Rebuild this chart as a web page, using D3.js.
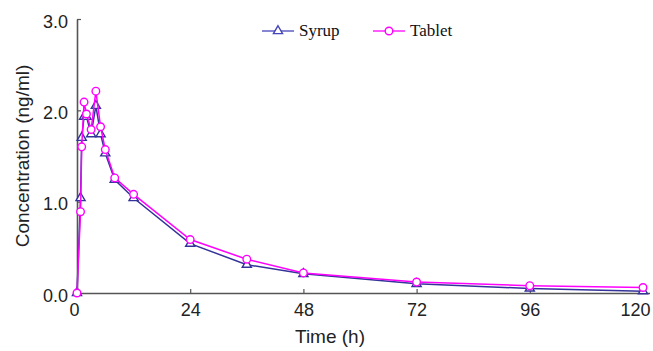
<!DOCTYPE html>
<html>
<head>
<meta charset="utf-8">
<script src="https://cdn.jsdelivr.net/npm/d3@7"></script>
<style>
body{margin:0;background:#fff;}
svg{display:block;}
.tick text{font-family:"Liberation Sans",Arial,sans-serif;font-size:18px;fill:#222;}
</style>
</head>
<body>
<div id="chart"></div>
<script>
// data
const times = [0, 0.75, 1, 1.5, 2, 3, 4, 5, 6, 8, 12, 24, 36, 48, 72, 96, 120];
const syrup = [0, 1.04, 1.70, 1.93, 1.93, 1.74, 2.05, 1.74, 1.53, 1.24, 1.04, 0.54, 0.31, 0.21, 0.10, 0.05, 0.02];
const tablet = [0, 0.89, 1.60, 2.09, 1.96, 1.79, 2.21, 1.82, 1.57, 1.26, 1.08, 0.585, 0.37, 0.22, 0.12, 0.08, 0.06];
const xTicks = [0, 24, 48, 72, 96, 120];
const yTicks = [0, 1, 2, 3];

const width = 653, height = 351;
const margin = {t:19, r:10, b:58, l:77};
const w = 643 - margin.l;
const h = height - margin.t - margin.b;

const svg = d3.select('#chart').append('svg')
	.attr('width', width)
	.attr('height', height);
const plot = svg.append('g')
	.attr('transform', `translate(${margin.l},${margin.t})`);

const scaleX = d3.scaleLinear().domain([0,120]).range([0,w]);
const scaleY = d3.scaleLinear().domain([0,3]).range([h,0]);

const axisColor = '#555';

// x axis, ticks pointing inward
const axisX = d3.axisBottom(scaleX).tickValues(xTicks).tickSize(-4).tickSizeOuter(0).tickPadding(10);
const gx = plot.append('g').attr('transform', `translate(0,${h})`).call(axisX);
gx.select('.domain').attr('d', `M0,0.5H${w+7}`).attr('stroke', axisColor).attr('stroke-width', 1.6);
gx.selectAll('line').attr('stroke', axisColor).attr('stroke-width', 1.2);
gx.selectAll('.tick text').filter(d => d === 120).attr('text-anchor', 'end').attr('x', 7);
gx.selectAll('.tick text').filter(d => d === 0).attr('x', -3);

// y axis
const axisY = d3.axisLeft(scaleY).tickValues(yTicks).tickFormat(d3.format('.1f')).tickSize(-4).tickSizeOuter(0).tickPadding(9);
const gy = plot.append('g').call(axisY);
gy.select('.domain').attr('stroke', axisColor).attr('stroke-width', 1.6);
gy.selectAll('line').attr('stroke', axisColor).attr('stroke-width', 1.2);
gy.selectAll('.tick text').attr('dy', '0.45em');

// axis titles
svg.append('text')
	.attr('x', 330).attr('y', 343)
	.attr('text-anchor', 'middle')
	.style('font-family', '"Liberation Sans",Arial,sans-serif')
	.style('font-size', '19px').style('fill', '#222')
	.text('Time (h)');
svg.append('text')
	.attr('transform', 'translate(29,156) rotate(-90)')
	.attr('text-anchor', 'middle')
	.style('font-family', '"Liberation Sans",Arial,sans-serif')
	.style('font-size', '19px').style('fill', '#222')
	.text('Concentration (ng/ml)');

const series = [
	{name:'Syrup', values:syrup, color:'#333399', marker:'triangle'},
	{name:'Tablet', values:tablet, color:'#ff00ff', marker:'circle'}
];

const line = d3.line()
	.x((d,i) => scaleX(times[i]))
	.y(d => scaleY(d));

function drawMarker(sel, type, color){
	if(type === 'triangle'){
		sel.append('path')
			.attr('d', d3.symbol(d3.symbolTriangle, 36)())
			.attr('fill', '#fff').attr('stroke', color).attr('stroke-width', 1.4);
	} else {
		sel.append('circle').attr('r', 3.8)
			.attr('fill', '#fff').attr('stroke', color).attr('stroke-width', 1.4);
	}
}

series.forEach(s => {
	plot.append('path')
		.datum(s.values)
		.attr('fill', 'none')
		.attr('stroke', s.color)
		.attr('stroke-width', 1.5)
		.attr('d', line);
	plot.selectAll(null)
		.data(s.values)
		.enter().append('g')
		.attr('transform', (d,i) => `translate(${scaleX(times[i])},${scaleY(d)})`)
		.each(function(){ drawMarker(d3.select(this), s.marker, s.color); });
});

// legend
const legend = svg.append('g');
const legX = [262, 373];
series.forEach((s,i) => {
	const c = i === 0 ? '#4444bb' : s.color;
	const g = legend.append('g').attr('transform', `translate(${legX[i]},31)`);
	g.append('line').attr('x1',0).attr('x2',32).attr('y1',0).attr('y2',0)
		.attr('stroke', c).attr('stroke-width', 1.3);
	const m = g.append('g').attr('transform', 'translate(16,0)');
	drawMarker(m, s.marker, c);
	g.append('text')
		.attr('x', 37).attr('y', 5)
		.style('font-family', '"Liberation Serif","Times New Roman",serif')
		.style('font-size', '17px').style('fill', '#111')
		.text(s.name);
});
</script>
</body>
</html>
